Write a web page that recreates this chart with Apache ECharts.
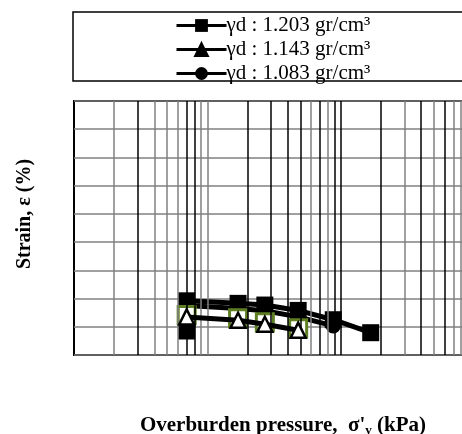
<!DOCTYPE html>
<html><head><meta charset="utf-8">
<script src="https://cdn.jsdelivr.net/npm/echarts@6/dist/echarts.min.js"></script>
<style>html,body{margin:0;padding:0;background:#fff}#c{width:462px;height:434px}</style>
</head><body><div id="c"></div>
<script>
// ---- data ----
const seriesNames = ['γd : 1.203 gr/cm³', 'γd : 1.143 gr/cm³', 'γd : 1.083 gr/cm³'];
const pressure = [7, 17, 27, 48, 88, 168];
const strain1203 = [7.08, 7.17, 7.23, 7.42, 7.75, 8.21];
const strain1143 = [7.65, 7.77, 7.91, 8.12];
const strain1083 = [7.25, 7.35, 7.43, 7.65, 7.97];
const extraMarkX = [7];
const extraMarkY = [8.15];
const gridX = [2,3,4,5,6,7,8,9,10,20,30,40,50,60,70,80,90,100,200,300,400,500,600,700,800,900];
// ---- styles ----
const G = '#808080', K = '#000';
const gridColors = [G,K,G,G,G,K,K,G,G,K,K,K,K,G,K,G,K,K,K,G,K,G,K,G,G,G];
const FONT = 'Liberation Serif';

const pairs = (xs, ys) => ys.map((y, i) => [xs[i], y]);

const chart = echarts.init(document.getElementById('c'), null, {renderer: 'canvas'});
chart.setOption({
  animation: false,
  backgroundColor: '#fff',
  grid: {left: 74, top: 101, right: -12, bottom: 79, show: true, borderColor: '#000', borderWidth: 2,
         containLabel: false, outerBoundsMode: 'none'},
  graphic: [{
    type: 'rect', shape: {x: 73, y: 12, width: 420, height: 69},
    style: {fill: null, stroke: '#000', lineWidth: 1.5}, z: 0
  }],
  legend: {
    orient: 'vertical', left: 175, top: 15, padding: 0, itemGap: 3,
    itemWidth: 50, itemHeight: 16,
    lineStyle: {width: 3, color: '#000'},
    textStyle: {fontFamily: FONT, fontSize: 21, color: '#000', lineHeight: 21, padding: [0,0,0,-5]},
    data: [
      {name: seriesNames[0]},
      {name: seriesNames[1], itemStyle: {color: '#000', borderColor: '#000'}},
      {name: seriesNames[2]}
    ]
  },
  xAxis: {
    type: 'log', logBase: 10, min: 1, max: 1000,
    axisLine: {show: false}, axisTick: {show: false}, axisLabel: {show: false},
    splitLine: {show: false},
    name: "Overburden pressure,  σ'{sub|v} (kPa)", nameLocation: 'middle', nameGap: 59,
    nameTextStyle: {fontFamily: FONT, fontSize: 21, fontWeight: 'bold', color: '#000', padding: [0,0,0,18],
      rich: {sub: {fontFamily: FONT, fontSize: 13, fontWeight: 'bold', color: '#000', padding: [10,0,0,0]}}}
  },
  yAxis: {
    type: 'value', min: 0, max: 9, interval: 1, inverse: true,
    axisLine: {show: false}, axisTick: {show: false}, axisLabel: {show: false},
    splitLine: {show: true, lineStyle: {color: G, width: 1.5}},
    name: 'Strain, ε (%)', nameLocation: 'middle', nameGap: 39, nameRotate: 90,
    nameTextStyle: {fontFamily: FONT, fontSize: 20, fontWeight: 'bold', color: '#000', padding: [0,0,0,28]}
  },
  series: [
    {
      name: '_grid', type: 'line', data: [], silent: true, z: 1,
      markLine: {silent: true, symbol: ['none','none'], label: {show: false}, animation: false,
        data: gridX.map((v, i) => ({xAxis: v, lineStyle: {color: gridColors[i], width: 1.5, type: 'solid'}}))}
    },
    {
      name: seriesNames[2], type: 'line', z: 2, data: pairs(pressure, strain1083),
      symbol: 'circle', symbolSize: 15, color: '#000',
      itemStyle: {color: '#000'}, lineStyle: {color: '#000', width: 5}
    },
    {
      name: '_extra', type: 'scatter', z: 2, data: pairs(extraMarkX, extraMarkY),
      symbol: 'rect', symbolSize: [17, 17], itemStyle: {color: '#000', opacity: 1}
    },
    {
      name: seriesNames[0], type: 'line', z: 3, data: pairs(pressure, strain1203),
      symbol: 'rect', symbolSize: 17, color: '#000',
      itemStyle: {color: '#000'}, lineStyle: {color: '#000', width: 5}
    },
    {
      name: '_box', type: 'scatter', z: 4, data: pairs(pressure, strain1143),
      symbol: 'rect', symbolSize: 17, symbolOffset: [0, -2],
      itemStyle: {color: '#fff', borderColor: '#5f7f23', borderWidth: 3, opacity: 1}
    },
    {
      name: seriesNames[1], type: 'line', z: 5, data: pairs(pressure, strain1143),
      symbol: 'triangle', symbolSize: 15, color: '#000',
      itemStyle: {color: '#fff', borderColor: '#000', borderWidth: 2.5}, lineStyle: {color: '#000', width: 5}
    }
  ]
});
</script>
</body></html>
